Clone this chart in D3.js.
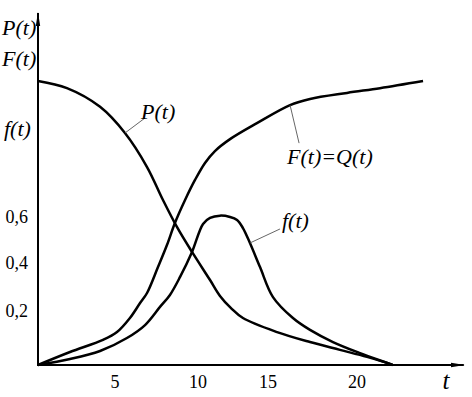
<!DOCTYPE html>
<html>
<head>
<meta charset="utf-8">
<script src="https://cdn.jsdelivr.net/npm/d3@7"></script>
<style>
  body { margin: 0; background: #fff; }
  svg { display: block; }
  .lbl { font-family: "Liberation Serif", "Times New Roman", Tinos, "DejaVu Serif", serif; font-style: italic; fill: #000; }
  .tick { font-family: "Liberation Serif", "Times New Roman", Tinos, "DejaVu Serif", serif; fill: #000; }
</style>
</head>
<body>
<svg id="chart" width="472" height="397"></svg>
<script>
// tick labels
const xTicks = [5, 10, 15, 20];
const yTicks = [0.2, 0.4, 0.6];

// P(t) - probability of no failure
const pT = [0, 1.88, 4.03, 5.6, 6.93, 7.89, 8.73, 9.64, 10.86, 11.57, 12.36, 13.21, 15.51, 17.36, 19.04, 20.56, 21.85, 22.0];
const pV = [1.0, 0.979, 0.924, 0.847, 0.747, 0.65, 0.557, 0.448, 0.329, 0.263, 0.212, 0.174, 0.122, 0.085, 0.056, 0.03, 0.004, 0];

// F(t) = Q(t) - probability of failure
const fT = [0, 2.08, 4.22, 5.12, 5.9, 6.51, 6.93, 7.59, 8.13, 8.61, 9.22, 9.82, 10.5, 11.21, 12.29, 14.21, 16.24, 17.36, 19.44, 21.29, 23.71];
const fV = [0, 0.048, 0.093, 0.122, 0.174, 0.233, 0.275, 0.383, 0.478, 0.574, 0.65, 0.709, 0.759, 0.794, 0.829, 0.876, 0.929, 0.947, 0.965, 0.979, 1.0];

// f(t) - failure density
const dT = [0, 2.08, 4.03, 5.72, 6.81, 7.71, 8.31, 8.92, 9.64, 10.36, 10.86, 11.57, 12.29, 12.79, 13.21, 13.71, 14.43, 15.28, 16.4, 17.36, 18.65, 20.17, 21.85, 22.0];
const dV = [0, 0.022, 0.052, 0.1, 0.148, 0.217, 0.267, 0.342, 0.448, 0.57, 0.596, 0.604, 0.6, 0.587, 0.552, 0.487, 0.383, 0.258, 0.174, 0.13, 0.085, 0.044, 0.004, 0];

const svg = d3.select("#chart");

// the drawing is hand made, so the axes are not evenly spaced
const x = d3.scaleLinear().domain([0, 5, 10, 15, 20]).range([38, 115, 198, 268, 357]);
const y = d3.scaleLinear().domain([0, 0.2, 0.4, 0.6, 1]).range([365, 311, 263, 217, 81]);

const xMax = 26, yMax = 1.2;

// arrow heads
const defs = svg.append("defs");
defs.append("marker")
    .attr("id", "arrow")
    .attr("viewBox", "0 0 14 6")
    .attr("refX", 13).attr("refY", 3)
    .attr("markerWidth", 14).attr("markerHeight", 6)
    .attr("markerUnits", "userSpaceOnUse")
    .attr("orient", "auto")
  .append("path")
    .attr("d", "M0,0.8 L14,3 L0,5.2 Z")
    .attr("fill", "#000");

// axes
svg.append("line")
    .attr("x1", x(0)).attr("y1", y(0))
    .attr("x2", x(xMax)).attr("y2", y(0))
    .attr("stroke", "#000").attr("stroke-width", 2)
    .attr("marker-end", "url(#arrow)");

svg.append("line")
    .attr("x1", x(0)).attr("y1", y(0) + 1)
    .attr("x2", x(0)).attr("y2", y(yMax))
    .attr("stroke", "#000").attr("stroke-width", 2)
    .attr("marker-end", "url(#arrow)");

// tick labels
svg.selectAll(".xtick")
  .data(xTicks)
  .join("text")
    .attr("class", "tick")
    .attr("x", d => x(d))
    .attr("y", 388)
    .attr("text-anchor", "middle")
    .attr("font-size", 18)
    .text(d => d);

svg.selectAll(".ytick")
  .data(yTicks)
  .join("text")
    .attr("class", "tick")
    .attr("x", 28)
    .attr("y", d => y(d) + 6)
    .attr("text-anchor", "end")
    .attr("font-size", 18)
    .text(d => String(d).replace(".", ","));

// axis titles
svg.append("text").attr("class", "lbl").attr("x", 446).attr("y", 389)
    .attr("text-anchor", "middle").attr("font-size", 25).text("t");
svg.append("text").attr("class", "lbl").attr("x", 2).attr("y", 35).attr("font-size", 22).text("P(t)");
svg.append("text").attr("class", "lbl").attr("x", 2).attr("y", 66).attr("font-size", 22).text("F(t)");
svg.append("text").attr("class", "lbl").attr("x", 4).attr("y", 136).attr("font-size", 22).text("f(t)");

// curves
const line = d3.line()
    .x(d => x(d[0]))
    .y(d => y(d[1]))
    .curve(d3.curveCatmullRom.alpha(0.5));

const series = [
  { name: "P", pts: d3.zip(pT, pV) },
  { name: "F", pts: d3.zip(fT, fV) },
  { name: "f", pts: d3.zip(dT, dV) }
];

svg.selectAll(".curve")
  .data(series)
  .join("path")
    .attr("class", "curve")
    .attr("d", d => line(d.pts))
    .attr("fill", "none")
    .attr("stroke", "#000")
    .attr("stroke-width", 2.5)
    .attr("stroke-linejoin", "round");

// curve labels with leader lines
const notes = [
  { text: "P(t)", t: pT[3], v: pV[3], dx: 20, dy: -15, tx: 141, ty: 119 },
  { text: "F(t)=Q(t)", t: fT[16], v: fV[16], dx: 9, dy: 38, tx: 287, ty: 164 },
  { text: "f(t)", t: dT[15], v: dV[15], dx: 30, dy: -14, tx: 282, ty: 228 }
];

notes.forEach(n => {
  const ax = x(n.t), ay = y(n.v);
  svg.append("line")
      .attr("x1", ax).attr("y1", ay)
      .attr("x2", ax + n.dx).attr("y2", ay + n.dy)
      .attr("stroke", "#555").attr("stroke-width", 0.9);
  svg.append("text")
      .attr("class", "lbl")
      .attr("x", n.tx).attr("y", n.ty)
      .attr("font-size", 22)
      .text(n.text);
});
</script>
</body>
</html>
